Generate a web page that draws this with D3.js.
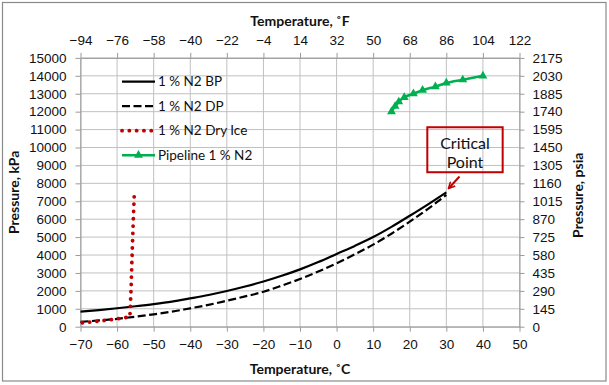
<!DOCTYPE html>
<html>
<head>
<meta charset="utf-8">
<script src="https://cdn.jsdelivr.net/npm/d3@7/dist/d3.min.js"></script>
<style>
  body { margin: 0; background: #fff; }
  svg { display: block; font-family: Lato, 'Open Sans', sans-serif; }
</style>
</head>
<body>
<div id="chart"></div>
<script>
// axis ticks
const tempTicksC = [-70, -60, -50, -40, -30, -20, -10, 0, 10, 20, 30, 40, 50];
const tempTicksF = [-94, -76, -58, -40, -22, -4, 14, 32, 50, 68, 86, 104, 122];
const pressureTicksKpa = [0, 1000, 2000, 3000, 4000, 5000, 6000, 7000, 8000, 9000, 10000, 11000, 12000, 13000, 14000, 15000];
const pressureTicksPsia = [0, 145, 290, 435, 580, 725, 870, 1015, 1160, 1305, 1450, 1595, 1740, 1885, 2030, 2175];

// 1 % N2 bubble point
const bpTemp = [-70, -65, -60, -55, -50, -45, -40, -35, -30, -25, -20, -15, -10, -5, 0, 5, 10, 15, 20, 25, 30];
const bpPressure = [840, 930, 1030, 1140, 1260, 1400, 1580, 1770, 1990, 2240, 2520, 2840, 3200, 3610, 4060, 4510, 5000, 5570, 6190, 6830, 7500];

// 1 % N2 dew point
const dpTemp = [-70, -65, -60, -55, -50, -45, -40, -35, -30, -25, -20, -15, -10, -5, 0, 5, 10, 15, 20, 25, 30];
const dpPressure = [270, 350, 440, 560, 690, 840, 1025, 1220, 1450, 1690, 1950, 2290, 2660, 3080, 3540, 4040, 4580, 5190, 5860, 6580, 7350];

// 1 % N2 dry ice
const iceTemp = [-69.5, -66, -63, -60, -58, -56.5, -56.2, -55.9, -55.6, -55.3];
const icePressure = [220, 290, 360, 440, 500, 550, 2000, 4000, 5800, 7400];

// pipeline 1 % N2
const pipeTemp = [15, 16, 17, 18.5, 21, 23.5, 27, 30, 34.5, 40];
const pipePressure = [12000, 12300, 12550, 12800, 13000, 13200, 13400, 13600, 13780, 14000];

// critical point annotation (data units)
const noteBox = { t0: 24.8, t1: 45.4, p0: 8620, p1: 11130 };
const noteArrow = { fromT: 33.6, fromP: 8380, toT: 30.6, toP: 7710 };

const W = 609, H = 385;
const plot = { left: 80.5, right: 519.5, top: 57.9, bottom: 326.7 };
const grid = '#c0c0c0', axisCol = '#9a9a9a', txt = '#111';

const svg = d3.select('#chart').append('svg').attr('width', W).attr('height', H);
svg.append('rect').attr('x', 2.5).attr('y', 2.5).attr('width', 603.5).attr('height', 378.5)
  .attr('fill', '#fff').attr('stroke', '#8a8a8a').attr('stroke-width', 1.2);

const x = d3.scaleLinear().domain([-70, 50]).range([plot.left, plot.right]);
const xF = d3.scaleLinear().domain([-94, 122]).range([plot.left, plot.right]);
const y = d3.scaleLinear().domain([0, 15000]).range([plot.bottom, plot.top]);
const yPsi = d3.scaleLinear().domain([0, 2175]).range([plot.bottom, plot.top]);

// gridlines
svg.append('g').selectAll('line').data(tempTicksC).join('line')
  .attr('x1', d => x(d)).attr('x2', d => x(d)).attr('y1', plot.top).attr('y2', plot.bottom)
  .attr('stroke', grid).attr('stroke-width', 1);
svg.append('g').selectAll('line').data(pressureTicksKpa).join('line')
  .attr('x1', plot.left).attr('x2', plot.right).attr('y1', d => y(d)).attr('y2', d => y(d))
  .attr('stroke', grid).attr('stroke-width', 1);

function styleAxis(g) {
  g.select('.domain').attr('stroke', axisCol);
  g.selectAll('.tick line').attr('stroke', axisCol);
  g.selectAll('.tick text').attr('fill', txt).style('font-size', '13.5px');
}

svg.append('g').attr('transform', `translate(0,${plot.bottom})`)
  .call(d3.axisBottom(x).tickValues(tempTicksC).tickSize(5).tickSizeOuter(0).tickPadding(8))
  .call(styleAxis);
svg.append('g').attr('transform', `translate(0,${plot.top})`)
  .call(d3.axisTop(xF).tickValues(tempTicksF).tickSize(5).tickSizeOuter(0).tickPadding(8))
  .call(styleAxis);
svg.append('g').attr('transform', `translate(${plot.left},0)`)
  .call(d3.axisLeft(y).tickValues(pressureTicksKpa).tickFormat(d3.format('d')).tickSize(5).tickSizeOuter(0).tickPadding(9))
  .call(styleAxis);
svg.append('g').attr('transform', `translate(${plot.right},0)`)
  .call(d3.axisRight(yPsi).tickValues(pressureTicksPsia).tickFormat(d3.format('d')).tickSize(5).tickSizeOuter(0).tickPadding(8))
  .call(styleAxis);

// axis titles
const title = (t) => svg.append('text').text(t).attr('fill', txt)
  .style('font-size', '14px').style('font-weight', 'bold').attr('text-anchor', 'middle');
title('Temperature, \u02DAF').attr('x', (plot.left + plot.right) / 2).attr('y', 26);
title('Temperature, \u02DAC').attr('x', (plot.left + plot.right) / 2).attr('y', 374);
title('Pressure, kPa').attr('transform', `translate(19,${(plot.top + plot.bottom) / 2}) rotate(-90)`);
title('Pressure, psia').attr('transform', `translate(583,${(plot.top + plot.bottom) / 2 + 3}) rotate(-90)`);

// series
const toPts = (ts, ps) => ts.map((t, i) => [t, ps[i]]);
const smooth = d3.line().x(d => x(d[0])).y(d => y(d[1])).curve(d3.curveMonotoneX);
const straight = d3.line().x(d => x(d[0])).y(d => y(d[1]));

svg.append('path').attr('d', smooth(toPts(bpTemp, bpPressure)))
  .attr('fill', 'none').attr('stroke', '#000').attr('stroke-width', 2.2);
svg.append('path').attr('d', smooth(toPts(dpTemp, dpPressure)))
  .attr('fill', 'none').attr('stroke', '#000').attr('stroke-width', 2.2).attr('stroke-dasharray', '8,3.5');
svg.append('path').attr('d', straight(toPts(iceTemp, icePressure)))
  .attr('fill', 'none').attr('stroke', '#c00000').attr('stroke-width', 3.8)
  .attr('stroke-linecap', 'round').attr('stroke-dasharray', '0.1,7.2');

const pipe = toPts(pipeTemp, pipePressure);
svg.append('path').attr('d', smooth(pipe))
  .attr('fill', 'none').attr('stroke', '#00b050').attr('stroke-width', 2.5);
const tri = d3.symbol(d3.symbolTriangle).size(34);
svg.append('g').selectAll('path').data(pipe).join('path')
  .attr('transform', d => `translate(${x(d[0])},${y(d[1])})`)
  .attr('d', tri).attr('fill', '#00b050');

// legend
const legend = [
  { name: '1 % N2 BP', color: '#000', dash: null, w: 2.2 },
  { name: '1 % N2 DP', color: '#000', dash: '8,3.5', w: 2.2 },
  { name: '1 % N2 Dry Ice', color: '#c00000', dash: '0.1,7.2', w: 3.8 },
  { name: 'Pipeline 1 % N2', color: '#00b050', dash: null, w: 2.5, marker: true }
];
const lg = svg.append('g');
legend.forEach((d, i) => {
  const ly = 81.7 + i * 24.5;
  lg.append('line').attr('x1', 122).attr('x2', 155).attr('y1', ly).attr('y2', ly)
    .attr('stroke', d.color).attr('stroke-width', d.w)
    .attr('stroke-dasharray', d.dash).attr('stroke-linecap', d.dash && d.dash.startsWith('0.1') ? 'round' : 'butt');
  if (d.marker) lg.append('path').attr('transform', `translate(138.5,${ly})`).attr('d', tri).attr('fill', d.color);
  lg.append('text').attr('x', 158).attr('y', ly).attr('dy', '0.35em').text(d.name)
    .attr('fill', txt).style('font-size', '13.5px');
});

// critical point note
svg.append('rect').attr('x', x(noteBox.t0)).attr('y', y(noteBox.p1))
  .attr('width', x(noteBox.t1) - x(noteBox.t0)).attr('height', y(noteBox.p0) - y(noteBox.p1))
  .attr('fill', 'none').attr('stroke', '#c00000').attr('stroke-width', 2);
const cx = (x(noteBox.t0) + x(noteBox.t1)) / 2;
svg.append('text').attr('x', cx).attr('y', y(noteBox.p1) + 22).attr('text-anchor', 'middle')
  .text('Critical').attr('fill', txt).style('font-size', '16px');
svg.append('text').attr('x', cx).attr('y', y(noteBox.p1) + 41).attr('text-anchor', 'middle')
  .text('Point').attr('fill', txt).style('font-size', '16px');

svg.append('defs').append('marker').attr('id', 'arrow').attr('viewBox', '0 -5 10 10')
  .attr('refX', 9).attr('refY', 0).attr('markerWidth', 4).attr('markerHeight', 4).attr('orient', 'auto')
  .append('path').attr('d', 'M1,-4L9,0L1,4').attr('fill', 'none').attr('stroke', '#c00000').attr('stroke-width', 2);
svg.append('line').attr('x1', x(noteArrow.fromT)).attr('y1', y(noteArrow.fromP))
  .attr('x2', x(noteArrow.toT)).attr('y2', y(noteArrow.toP))
  .attr('stroke', '#c00000').attr('stroke-width', 2).attr('marker-end', 'url(#arrow)');
</script>
</body>
</html>
